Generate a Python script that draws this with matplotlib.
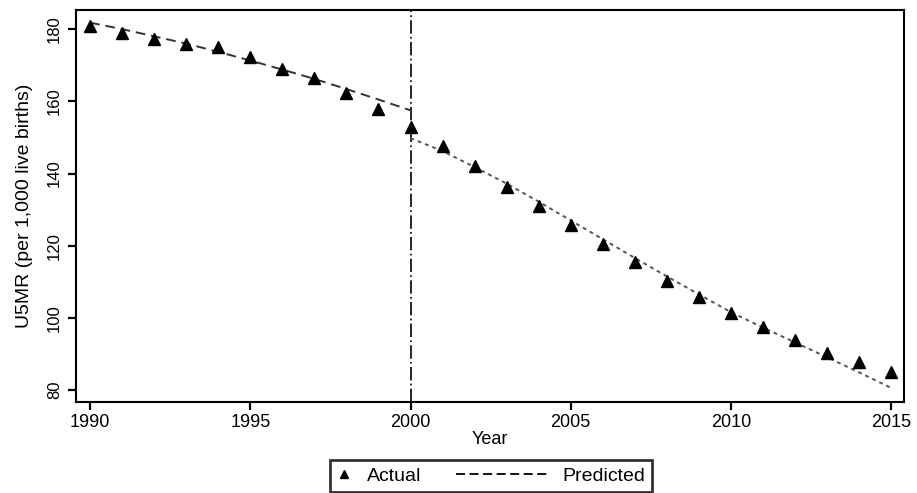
import matplotlib
matplotlib.use("Agg")
import matplotlib.pyplot as plt
from matplotlib.lines import Line2D
from matplotlib.legend_handler import HandlerLine2D

plt.rcParams['font.family'] = ['Liberation Sans', 'DejaVu Sans']

# data
years = list(range(1990, 2016))
actual = [180.8, 178.9, 177.2, 175.8, 175.0, 172.2, 169.0, 166.4, 162.2, 158.0,
          153.0, 147.5, 142.0, 136.4, 131.0, 125.6, 120.6, 115.6, 110.3, 105.8,
          101.4, 97.5, 93.9, 90.3, 87.8, 85.0]

years_pre = list(range(1990, 2001))
pred_pre = [181.8, 180.0, 178.0, 176.0, 173.7, 171.3, 168.8, 166.2, 163.4, 160.5, 157.5]

years_post = list(range(2000, 2016))
pred_post = [149.8, 146.2, 141.8, 137.2, 132.2, 127.0, 121.8, 116.6, 111.5, 106.5,
             101.6, 97.3, 93.2, 89.1, 84.9, 80.6]

break_year = 2000
xticks = [1990, 1995, 2000, 2005, 2010, 2015]
yticks = [80, 100, 120, 140, 160, 180]


class ShortHandle(HandlerLine2D):
    # marker sits in a short handle box so the text follows it closely
    def legend_artist(self, legend, orig_handle, fontsize, handlebox):
        handlebox.width = 0.8 * fontsize
        return super().legend_artist(legend, orig_handle, fontsize, handlebox)


fig = plt.figure(figsize=(9.17, 4.93), dpi=100)
ax = fig.add_axes([0.0829, 0.1846, 0.9029, 0.7951])

ax.plot(years_pre, pred_pre, color='#333333', lw=1.4, ls=(0, (5, 3)), zorder=2)
ax.plot(years_post, pred_post, color='#555555', lw=1.4, ls=(0, (2, 2)), zorder=2)
ax.plot(years, actual, ls='none', marker='^', color='black', ms=8, zorder=3)
ax.axvline(break_year, color='black', lw=1.2, ls=(0, (8, 2, 1, 2)), zorder=1)

ax.set_xlim(1989.56, 2015.4)
ax.set_ylim(76.7, 185.3)
ax.set_xticks(xticks)
ax.set_yticks(yticks)
ax.tick_params(axis='both', length=6, width=1.6, color='black')
ax.tick_params(axis='x', labelsize=13, pad=3)
ax.tick_params(axis='y', labelsize=12, pad=4)
for lab in ax.get_yticklabels():
    lab.set_rotation(90)
    lab.set_va('center')
for s in ax.spines.values():
    s.set_linewidth(1.5)

ax.set_xlabel('Year', fontsize=13, labelpad=0)
ax.set_ylabel('U5MR (per 1,000 live births)', fontsize=14, labelpad=10)

h_act = Line2D([], [], ls='none', marker='^', color='black', ms=6)
h_pred = Line2D([], [], color='black', lw=1.3, ls=(0, (5, 2.5)))
leg = fig.legend([h_act, h_pred], ['Actual', 'Predicted'], ncol=2,
                 loc='upper center', bbox_to_anchor=(0.535, 0.066),
                 borderaxespad=0, fontsize=14, handlelength=4.7, columnspacing=1.8,
                 handletextpad=0.75, fancybox=False, edgecolor='black',
                 borderpad=0.35, handler_map={h_act: ShortHandle(numpoints=1)})
leg.get_frame().set_linewidth(2)

fig.savefig('out.png', dpi=100)
